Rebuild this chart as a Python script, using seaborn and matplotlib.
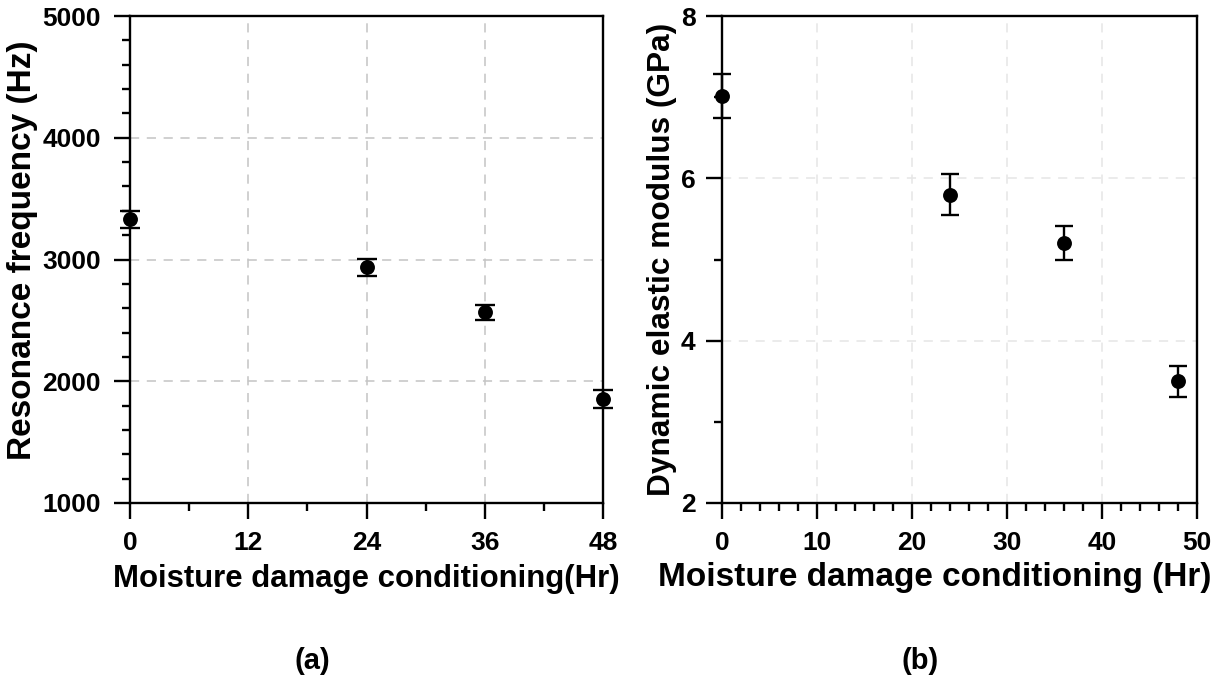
import numpy as np
import pandas as pd
import matplotlib
matplotlib.use("Agg")
import matplotlib.pyplot as plt
from matplotlib.ticker import MultipleLocator
import seaborn as sns

# ---- data ----
hours = [0, 24, 36, 48]
freq_mean = [3330, 2935, 2565, 1855]
freq_err = [68, 70, 65, 75]
mod_mean = [7.01, 5.80, 5.20, 3.50]
mod_err = [0.27, 0.25, 0.21, 0.19]

left_xticks = [0, 12, 24, 36, 48]
left_yticks = [1000, 2000, 3000, 4000, 5000]
right_xticks = [0, 10, 20, 30, 40, 50]
right_yticks = [2, 4, 6, 8]

sns.set_theme(style="ticks")
plt.rcParams['font.family'] = ['Liberation Sans', 'DejaVu Sans']
plt.rcParams['font.weight'] = 'bold'
plt.rcParams['text.color'] = 'black'
plt.rcParams['axes.labelcolor'] = 'black'
plt.rcParams['xtick.color'] = 'black'
plt.rcParams['ytick.color'] = 'black'

fig = plt.figure(figsize=(12.29, 6.78), dpi=100)
W, H = 1229, 678
axL = fig.add_axes([130 / W, (H - 503) / H, 473 / W, 487 / H])
axR = fig.add_axes([722 / W, (H - 503) / H, 475 / W, 487 / H])

df1 = pd.DataFrame({"x": hours, "y": freq_mean, "e": freq_err})
df2 = pd.DataFrame({"x": hours, "y": mod_mean, "e": mod_err})

def style_axes(ax, grid_color, ypad):
    for s in ax.spines.values():
        s.set_linewidth(1.7)
        s.set_color("black")
        s.set_visible(True)
    ax.tick_params(axis="both", which="major", direction="out", length=11.5,
                   width=1.7, labelsize=19, color="black", labelcolor="black")
    ax.tick_params(axis="x", which="major", pad=9)
    ax.tick_params(axis="y", which="major", pad=ypad)
    ax.tick_params(axis="both", which="minor", direction="out", length=5.5,
                   width=1.7, color="black")
    ax.tick_params(top=False, right=False, which="both")
    for lab in ax.get_xticklabels() + ax.get_yticklabels():
        lab.set_fontweight("bold")
    ax.grid(True, which="major", linestyle=(0, (6, 5)), color=grid_color, linewidth=1.1)
    ax.set_axisbelow(True)

# ---- left panel ----
axL.errorbar(df1["x"], df1["y"], yerr=df1["e"], fmt="none", ecolor="black",
             elinewidth=1.7, capsize=7.5, capthick=1.7, clip_on=False, zorder=3)
sns.scatterplot(data=df1, x="x", y="y", ax=axL, color="black", s=115,
                edgecolor="black", linewidth=0, zorder=4, clip_on=False)
axL.set_xlim(0, 48)
axL.set_ylim(1000, 5000)
axL.set_xticks(left_xticks)
axL.set_yticks(left_yticks)
axL.xaxis.set_minor_locator(MultipleLocator(6))
axL.yaxis.set_minor_locator(MultipleLocator(200))
style_axes(axL, "#c4c4c4", 9.5)
axL.set_xlabel("Moisture damage conditioning(Hr)", fontsize=22.4, fontweight="bold", labelpad=6)
axL.set_ylabel("Resonance frequency (Hz)", fontsize=24, fontweight="bold", labelpad=3)
axL.yaxis.label.set_y(0.518)

# ---- right panel ----
axR.errorbar(df2["x"], df2["y"], yerr=df2["e"], fmt="none", ecolor="black",
             elinewidth=1.7, capsize=6.8, capthick=1.7, clip_on=False, zorder=3)
sns.scatterplot(data=df2, x="x", y="y", ax=axR, color="black", s=115,
                edgecolor="black", linewidth=0, zorder=4, clip_on=False)
axR.set_xlim(0, 50)
axR.set_ylim(2, 8)
axR.set_xticks(right_xticks)
axR.set_yticks(right_yticks)
axR.xaxis.set_minor_locator(MultipleLocator(2))
axR.yaxis.set_minor_locator(MultipleLocator(1))
style_axes(axR, "#e6e6e6", 7.5)
axR.set_xlabel("Moisture damage conditioning (Hr)", fontsize=24, fontweight="bold", labelpad=5)
axR.xaxis.label.set_x((935 - 722) / 475)
axR.set_ylabel("Dynamic elastic modulus (GPa)", fontsize=22.8, fontweight="bold", labelpad=3)

# panel captions
fig.text(312 / W, 1 - 661 / H, "(a)", ha="center", va="center", fontsize=21, fontweight="bold")
fig.text(920 / W, 1 - 661 / H, "(b)", ha="center", va="center", fontsize=21, fontweight="bold")

fig.savefig("out.png", dpi=100, facecolor="white")
